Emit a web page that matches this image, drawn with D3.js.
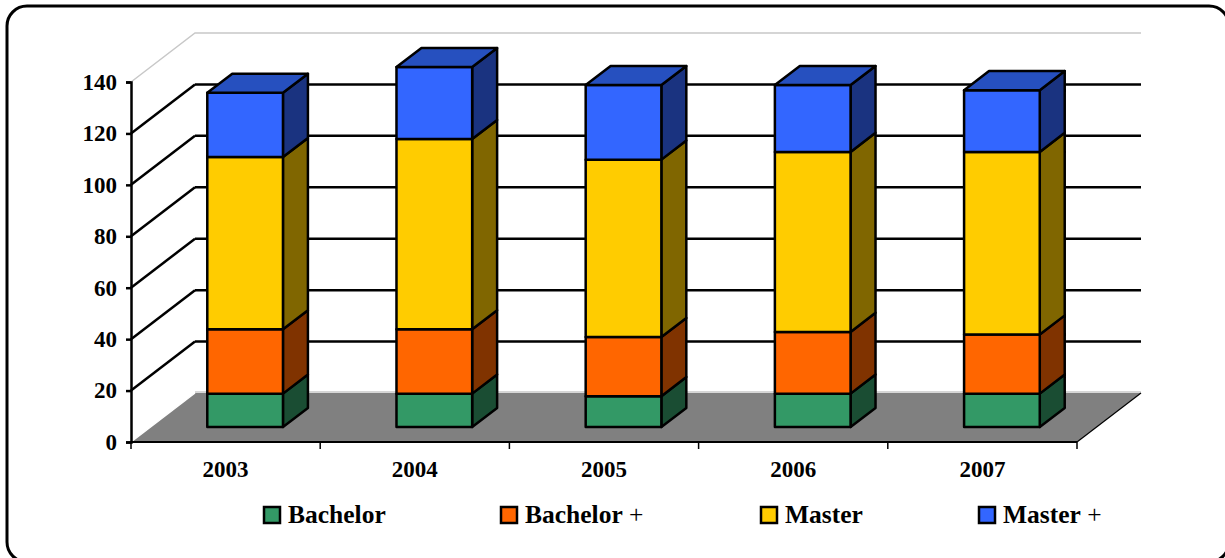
<!DOCTYPE html>
<html>
<head>
<meta charset="utf-8">
<script src="https://cdn.jsdelivr.net/npm/d3@7"></script>
<style>
  body { margin: 0; background: #fff; }
  text { font-family: "Liberation Serif", "Times New Roman", serif; font-weight: bold; }
</style>
</head>
<body>
<svg id="chart" width="1225" height="558"></svg>
<script>
const years = ["2003", "2004", "2005", "2006", "2007"];
const bachelor = [13, 13, 12, 13, 13];
const bachelorPlus = [25, 25, 23, 24, 23];
const master = [67, 74, 69, 70, 71];
const masterPlus = [25, 28, 29, 26, 24];
const seriesNames = ["Bachelor", "Bachelor +", "Master", "Master +"];
const yTicks = [0, 20, 40, 60, 80, 100, 120, 140];

const frontColors = ["#339966", "#ff6600", "#ffcc00", "#3366ff"];
const sideColors = ["#1a4d33", "#803300", "#806600", "#1a3380"];
const topColor = "#2650bf";

const svg = d3.select("#chart");

// frame
svg.append("rect")
  .attr("x", 7).attr("y", 6)
  .attr("width", 1222).attr("height", 556)
  .attr("rx", 20)
  .attr("fill", "none")
  .attr("stroke", "#000")
  .attr("stroke-width", 3);

const x0 = 131, x1 = 1077;
const depth = { dx: 64, dy: -49 };

const x = d3.scaleBand()
  .domain(years)
  .range([x0, x1])
  .paddingInner(0.6)
  .paddingOuter(0.3);

const y = d3.scaleLinear()
  .domain([0, 140])
  .range([442, 82]);

// project a front-plane point back into depth z (0 = front, 1 = back)
const px = (xv, z) => xv + z * depth.dx;
const py = (v, z) => y(v) + z * depth.dy;

const g = svg.append("g");

// floor
const floor = [[x0, y(0)], [x1, y(0)], [px(x1, 1), py(0, 1)], [px(x0, 1), py(0, 1)]];
g.append("polygon")
  .attr("points", floor.map(p => p.join(",")).join(" "))
  .attr("fill", "#808080");

g.append("line")
  .attr("x1", px(x0, 1)).attr("y1", py(0, 1) - 1)
  .attr("x2", px(x1, 1)).attr("y2", py(0, 1) - 1)
  .attr("stroke", "#c8c8c8").attr("stroke-width", 1.5);
g.append("line")
  .attr("x1", x0).attr("y1", y(0))
  .attr("x2", px(x0, 1)).attr("y2", py(0, 1))
  .attr("stroke", "#fff").attr("stroke-width", 1.5);
g.append("line")
  .attr("x1", x1).attr("y1", y(0))
  .attr("x2", px(x1, 1)).attr("y2", py(0, 1))
  .attr("stroke", "#000").attr("stroke-width", 1.2);

// walls: gridlines on back wall and diagonals on side wall
const grid = yTicks.filter(d => d > 0 && d < 140);
g.selectAll(".grid-back")
  .data(grid)
  .join("line")
  .attr("x1", px(x0, 1)).attr("x2", px(x1, 1))
  .attr("y1", d => py(d, 1)).attr("y2", d => py(d, 1))
  .attr("stroke", "#000").attr("stroke-width", 2.5);

g.selectAll(".grid-side")
  .data(grid)
  .join("line")
  .attr("x1", x0).attr("y1", d => y(d))
  .attr("x2", px(x0, 1)).attr("y2", d => py(d, 1))
  .attr("stroke", "#000").attr("stroke-width", 2.5);

// top edges of walls
g.append("polyline")
  .attr("points", [[x0, y(140)], [px(x0, 1), py(140, 1)], [px(x1, 1), py(140, 1)]].map(p => p.join(",")).join(" "))
  .attr("fill", "none")
  .attr("stroke", "#c8c8c8")
  .attr("stroke-width", 1.5);

// y axis
const yAxis = g.append("g")
  .attr("transform", `translate(${x0},0)`)
  .call(d3.axisLeft(y).tickValues(yTicks).tickSize(5).tickPadding(9));
yAxis.select(".domain").attr("stroke-width", 2.5);
yAxis.selectAll(".tick line").attr("stroke-width", 2.5);
yAxis.selectAll("text")
  .style("font-size", "23px")
  .style("font-family", "'Liberation Serif', 'Times New Roman', serif")
  .style("font-weight", "bold")
  .attr("fill", "#000");

// x axis
g.append("line")
  .attr("x1", x0).attr("x2", x1)
  .attr("y1", y(0)).attr("y2", y(0))
  .attr("stroke", "#000").attr("stroke-width", 2);

const step = x.step();
const bounds = d3.range(years.length + 1).map(i => x0 + i * step);
g.selectAll(".xtick")
  .data(bounds)
  .join("line")
  .attr("x1", d => d).attr("x2", d => d)
  .attr("y1", y(0)).attr("y2", y(0) + 7)
  .attr("stroke", "#000").attr("stroke-width", 1.5);

g.selectAll(".xlabel")
  .data(years)
  .join("text")
  .attr("x", (d, i) => x0 + (i + 0.5) * step)
  .attr("y", 477)
  .attr("text-anchor", "middle")
  .style("font-size", "23px")
  .text(d => d);

// bars
const zFront = 0.305, zBack = 0.695;
const series = [bachelor, bachelorPlus, master, masterPlus];
const stacks = years.map((yr, i) => {
  let acc = 0;
  return series.map((s, k) => {
    const seg = { year: yr, k: k, v0: acc, v1: acc + s[i] };
    acc += s[i];
    return seg;
  });
});

const pts = arr => arr.map(p => p.join(",")).join(" ");

stacks.forEach(segs => {
  const bar = g.append("g");
  const xl = x(segs[0].year), xr = xl + x.bandwidth();
  segs.forEach(s => {
    bar.append("polygon")
      .attr("points", pts([
        [px(xr, zFront), py(s.v0, zFront)],
        [px(xr, zBack), py(s.v0, zBack)],
        [px(xr, zBack), py(s.v1, zBack)],
        [px(xr, zFront), py(s.v1, zFront)]
      ]))
      .attr("fill", sideColors[s.k])
      .attr("stroke", "#000").attr("stroke-width", 2.5)
      .attr("stroke-linejoin", "round");
    bar.append("polygon")
      .attr("points", pts([
        [px(xl, zFront), py(s.v0, zFront)],
        [px(xr, zFront), py(s.v0, zFront)],
        [px(xr, zFront), py(s.v1, zFront)],
        [px(xl, zFront), py(s.v1, zFront)]
      ]))
      .attr("fill", frontColors[s.k])
      .attr("stroke", "#000").attr("stroke-width", 2.5)
      .attr("stroke-linejoin", "round");
  });
  const t = segs[segs.length - 1].v1;
  bar.append("polygon")
    .attr("points", pts([
      [px(xl, zFront), py(t, zFront)],
      [px(xr, zFront), py(t, zFront)],
      [px(xr, zBack), py(t, zBack)],
      [px(xl, zBack), py(t, zBack)]
    ]))
    .attr("fill", topColor)
    .attr("stroke", "#000").attr("stroke-width", 2.5)
    .attr("stroke-linejoin", "round");
});

// legend
const legendX = [263, 500, 760, 978];
const legend = svg.append("g");
seriesNames.forEach((name, i) => {
  legend.append("rect")
    .attr("x", legendX[i] + 1).attr("y", 507)
    .attr("width", 16).attr("height", 16)
    .attr("fill", frontColors[i])
    .attr("stroke", "#000").attr("stroke-width", 2.5);
  const t = legend.append("text")
    .attr("x", legendX[i] + 25)
    .attr("y", 523)
    .style("font-size", "25.5px");
  if (name.endsWith(" +")) {
    t.append("tspan").text(name.slice(0, -2));
    t.append("tspan").style("font-weight", "normal").text(" +");
  } else {
    t.text(name);
  }
});
</script>
</body>
</html>
